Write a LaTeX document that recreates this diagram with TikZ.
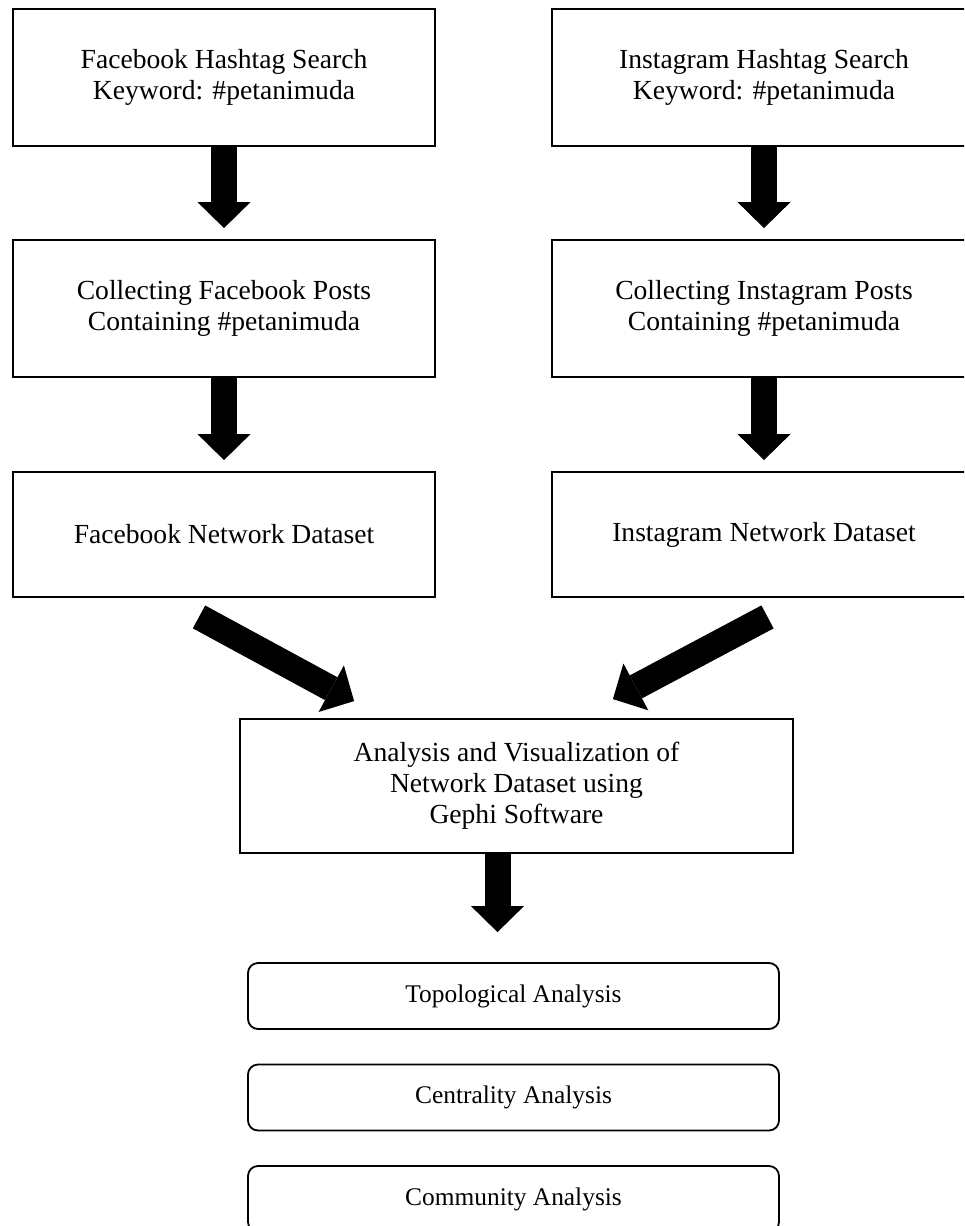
\documentclass[tikz,border=0pt]{standalone}
\usepackage{fontspec}
\setmainfont{Liberation Serif}
\usepackage{tikz}
\usetikzlibrary{calc}
\usetikzlibrary{arrows.meta}

\begin{document}
\begin{tikzpicture}[x=0.5pt,y=-0.5pt,
  stepbox/.style={draw,line width=0.9pt,align=center,inner sep=0pt,
    minimum width=211pt,minimum height=68.5pt,font=\fontsize{13.8}{15.5}\selectfont},
  resultbox/.style={draw,line width=0.9pt,rounded corners=5pt,inner sep=0pt,
    minimum width=265.5pt,minimum height=33pt,font=\fontsize{12.7}{15}\selectfont},
  bigarrow/.style={line width=13pt,
    -{Triangle[width=26.5pt 0 0,length=13pt 0 0,line width=0pt 0 0]}}]
\clip (0,0) rectangle (964,1226);
\fill[white] (0,0) rectangle (964,1226);

% Facebook side
\node[stepbox] (fbtag) at (224,77.5) {Facebook Hashtag Search\\Keyword: \#petanimuda};
\node[stepbox] (fbpost) at (224,308.5) {Collecting Facebook Posts\\Containing \#petanimuda};
\node[stepbox,minimum height=62.5pt] (fbnet) at (224,534.5) {Facebook Network Dataset};

% Instagram side
\node[stepbox,minimum width=212pt] (igtag) at (764,77.5) {Instagram Hashtag Search\\Keyword: \#petanimuda};
\node[stepbox,minimum width=212pt] (igpost) at (764,308.5) {Collecting Instagram Posts\\Containing \#petanimuda};
\node[stepbox,minimum width=212pt,minimum height=62.5pt] (ignet) at (764,534.5) {Instagram Network Dataset};

% Gephi step and the three analyses
\node[stepbox,minimum width=276.5pt,minimum height=67pt] (ana) at (516.5,786)
  {Analysis and Visualization of\\Network Dataset using\\ Gephi Software};
\node[resultbox] (topo) at (513.5,996) {Topological Analysis};
\node[resultbox] (cent) at (513.5,1097.5) {Centrality Analysis};
\node[resultbox] (comm) at (513.5,1199) {Community Analysis};

% Block arrows
\draw[bigarrow,shorten >=5.5pt] (fbtag) -- (fbpost);
\draw[bigarrow,shorten >=5.5pt] (fbpost) -- (fbnet);
\draw[bigarrow,shorten >=5.5pt] (igtag) -- (igpost);
\draw[bigarrow,shorten >=5.5pt] (igpost) -- (ignet);
\draw[bigarrow] ($(fbnet.south)+(-25,19)$) -- ($(ana.north west)+(115,-17)$);
\draw[bigarrow] ($(ignet.south)+(3.5,19)$) -- ($(ana.north east)+(-181,-19)$);
\draw[bigarrow,shorten >=15pt] ([xshift=-9.5pt]ana.south) -- ([xshift=-8pt]topo.north);
\end{tikzpicture}
\end{document}
